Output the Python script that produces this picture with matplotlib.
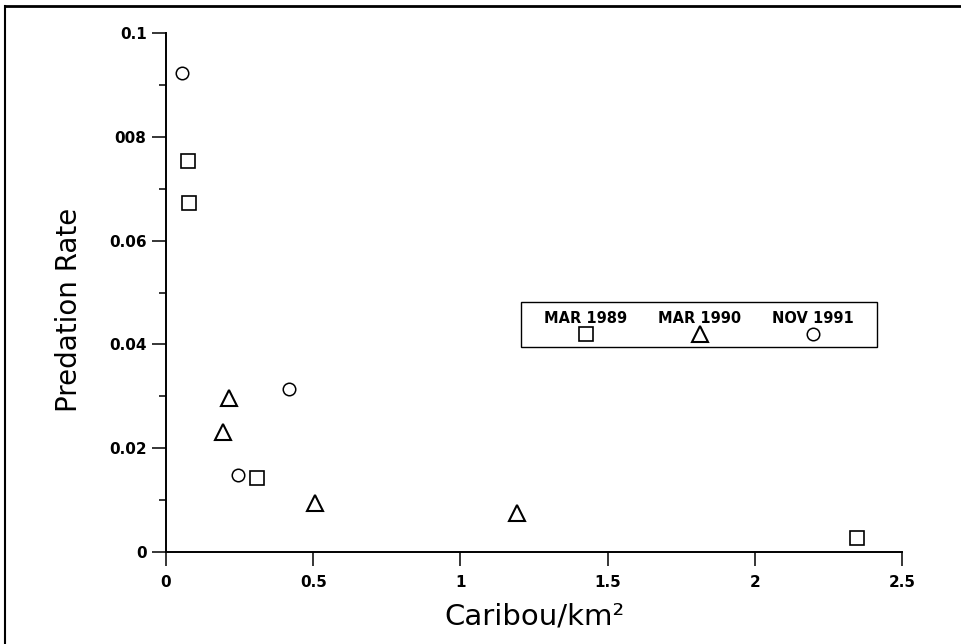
import matplotlib
matplotlib.use("Agg")
import matplotlib.pyplot as plt
from matplotlib.lines import Line2D
from matplotlib.patches import Rectangle
from matplotlib.offsetbox import VPacker

# caribou density (per km2) and predation rate
mar1989_x = [0.074, 0.079, 0.310, 2.348]
mar1989_y = [0.0753, 0.0672, 0.0142, 0.0027]
mar1990_x = [0.193, 0.214, 0.506, 1.191]
mar1990_y = [0.0230, 0.0296, 0.0094, 0.0075]
nov1991_x = [0.055, 0.243, 0.419]
nov1991_y = [0.0924, 0.0147, 0.0313]

xticks = [0, 0.5, 1, 1.5, 2, 2.5]
xtick_labels = ['0', '0.5', '1', '1.5', '2', '2.5']
yticks = [0, 0.02, 0.04, 0.06, 0.08, 0.1]
ytick_labels = ['0', '0.02', '0.04', '0.06', '008', '0.1']  # "008" as printed

fig = plt.figure(figsize=(9.62, 6.44), dpi=100)
ax = fig.add_axes([0.1726, 0.1436, 0.765, 0.8044])

ax.plot(mar1989_x, mar1989_y, ls='none', marker='s', ms=9.5, mfc='none',
        mec='black', mew=1.2, label='MAR 1989', clip_on=False)
ax.plot(mar1990_x, mar1990_y, ls='none', marker='^', ms=11, mfc='none',
        mec='black', mew=1.5, label='MAR 1990', clip_on=False)
ax.plot(nov1991_x, nov1991_y, ls='none', marker='o', ms=9, mfc='none',
        mec='black', mew=1.1, label='NOV 1991', clip_on=False)

ax.set_xlim(0, 2.5)
ax.set_ylim(0, 0.1)
ax.spines['top'].set_visible(False)
ax.spines['right'].set_visible(False)
ax.spines['left'].set_linewidth(1.4)
ax.spines['bottom'].set_linewidth(1.4)

ax.set_xticks(xticks)
ax.set_xticklabels(xtick_labels)
ax.set_yticks(yticks)
ax.set_yticklabels(ytick_labels)
ax.set_yticks([0.01, 0.03, 0.05, 0.07, 0.09], minor=True)
ax.tick_params(axis='x', which='major', length=10, width=1.1, pad=7,
               labelsize=11)
ax.tick_params(axis='y', which='major', length=10, width=1.1, pad=4,
               labelsize=11)
ax.tick_params(axis='y', which='minor', length=5, width=1.1)
for lab in ax.get_xticklabels() + ax.get_yticklabels():
    lab.set_fontweight('bold')

ax.set_xlabel('Caribou/km²', fontsize=21)
ax.set_ylabel('Predation Rate', fontsize=20)
ax.xaxis.set_label_coords(0.5, -0.098)
ax.yaxis.set_label_coords(-0.113, 0.467)

# legend: label above marker, framed box drawn separately
leg = ax.legend(ncol=3, loc='center', bbox_to_anchor=(0.724, 0.437),
                frameon=False, markerfirst=False, columnspacing=2.1,
                handletextpad=0.15, borderpad=0.2,
                prop={'size': 10.5, 'weight': 'bold'})
for col in leg._legend_handle_box.get_children():
    for item in col.get_children():
        item.__class__ = VPacker
        item.align = 'center'
ax.add_patch(Rectangle((0.482, 0.395), 0.484, 0.087, transform=ax.transAxes,
                       fill=False, ec='black', lw=1.0, clip_on=False))

# page frame lines (top and left) as in the scan
fig.add_artist(Line2D([0.005, 1.0], [0.991, 0.991], color='black', lw=2))
fig.add_artist(Line2D([0.0052, 0.0052], [0.0, 0.991], color='black', lw=1.5))

fig.savefig('out.png', dpi=100)
